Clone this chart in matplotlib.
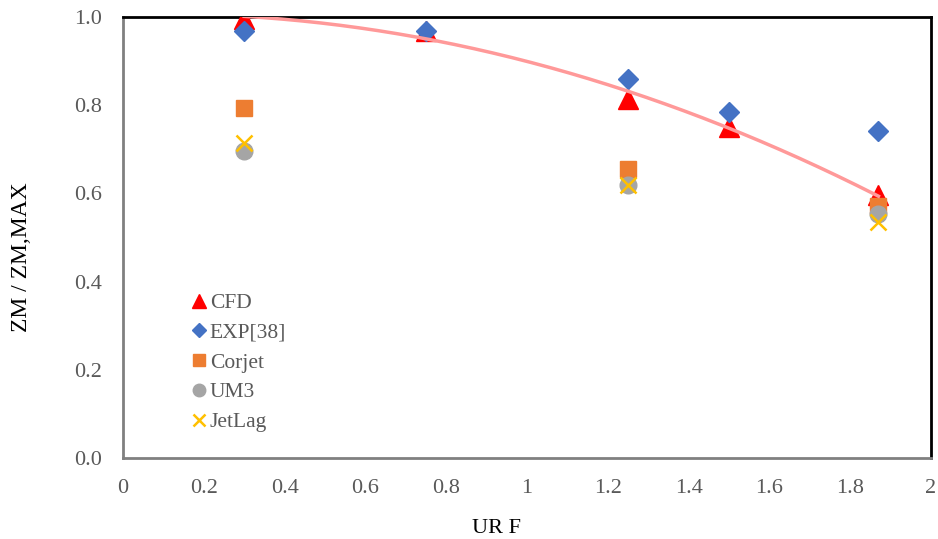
import numpy as np
import matplotlib.pyplot as plt

plt.rcParams['font.family'] = ['Liberation Serif', 'DejaVu Serif']

# Data
cfd_x = [0.3, 0.75, 1.25, 1.5, 1.87]
cfd_y = [0.995, 0.968, 0.815, 0.750, 0.597]
exp_x = [0.3, 0.75, 1.25, 1.5, 1.87]
exp_y = [0.968, 0.968, 0.860, 0.785, 0.742]
corjet_x = [0.3, 1.25, 1.87]
corjet_y = [0.794, 0.655, 0.572]
um3_x = [0.3, 1.25, 1.87]
um3_y = [0.697, 0.620, 0.553]
jetlag_x = [0.3, 1.25, 1.87]
jetlag_y = [0.715, 0.620, 0.535]

fig = plt.figure(figsize=(9.38, 5.39), dpi=100)
ax = fig.add_axes([0.1311, 0.1503, 0.8614, 0.8182])

ax.plot(cfd_x, cfd_y, '^', color='#FF0000', markersize=14, label='CFD', zorder=3)
ax.plot(exp_x, exp_y, 'D', color='#4472C4', markersize=10, label='EXP[38]', zorder=3)
ax.plot(corjet_x, corjet_y, 's', color='#ED7D31', markersize=12, label='Corjet', zorder=3)
ax.plot(um3_x, um3_y, 'o', color='#A5A5A5', markersize=12, label='UM3', zorder=3)
ax.plot(jetlag_x, jetlag_y, 'x', color='#FFC000', markersize=11, markeredgewidth=1.8,
        label='JetLag', zorder=3)

# quadratic trendline through CFD points
coef = np.polyfit(cfd_x, cfd_y, 2)
xs = np.linspace(min(cfd_x), max(cfd_x), 200)
ax.plot(xs, np.polyval(coef, xs), color='#FF9999', lw=2.5, zorder=4)

ax.set_xlim(0, 2)
ax.set_ylim(0, 1.0)
ax.set_xticks(np.arange(0, 2.01, 0.2))
ax.set_xticklabels(['0', '0.2', '0.4', '0.6', '0.8', '1', '1.2', '1.4', '1.6', '1.8', '2'])
ax.set_yticks(np.arange(0, 1.01, 0.2))
ax.set_yticklabels(['0.0', '0.2', '0.4', '0.6', '0.8', '1.0'])
ax.tick_params(length=0, labelsize=16, colors='#595959')
ax.tick_params(axis='x', pad=15)
ax.tick_params(axis='y', pad=15)

for s in ['left', 'bottom']:
    ax.spines[s].set_color('#808080')
    ax.spines[s].set_linewidth(2)
for s in ['top', 'right']:
    ax.spines[s].set_color('black')
    ax.spines[s].set_linewidth(2)

ax.set_xlabel('UR F', fontsize=16)
ax.set_ylabel('ZM / ZM,MAX', fontsize=17)
ax.xaxis.set_label_coords(0.462, -0.138)
ax.yaxis.set_label_coords(-0.112, 0.456)

leg = ax.legend(loc='upper left', bbox_to_anchor=(0.062, 0.418), frameon=False,
                fontsize=15.5, handlelength=0.6, handletextpad=0.2, labelspacing=0.45,
                markerscale=0.75, numpoints=1)
for t in leg.get_texts():
    t.set_color('#595959')

fig.savefig('out.png', dpi=100)
